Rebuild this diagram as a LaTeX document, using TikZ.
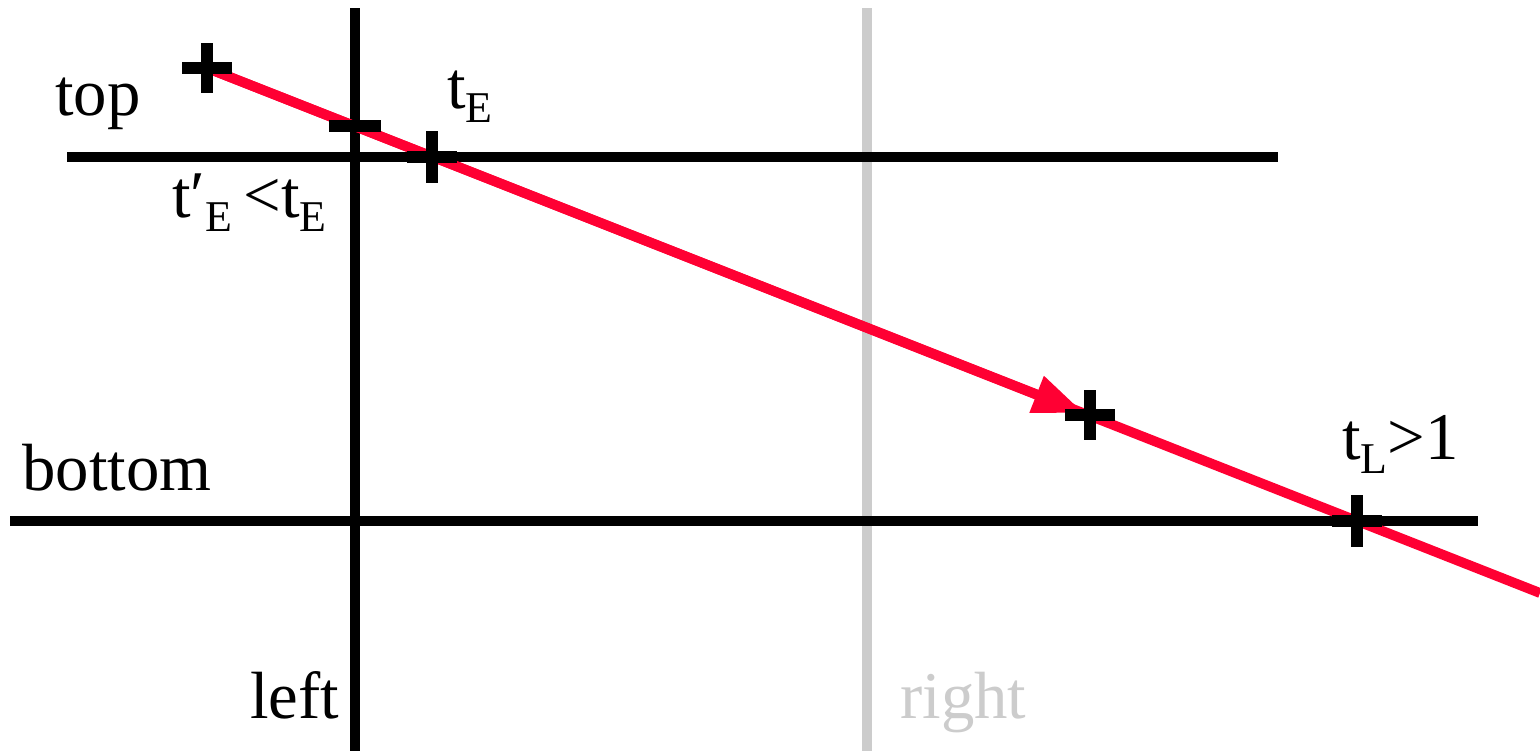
\documentclass[tikz,border=0pt]{standalone}
\usepackage{fontspec}
\setmainfont{Liberation Serif}
\usetikzlibrary{arrows.meta}
\definecolor{rayred}{HTML}{FF0033}
\definecolor{lgray}{HTML}{CCCCCC}
\newcommand\lowsub[1]{\raisebox{-8.5pt}{\fontsize{25}{26}\selectfont #1}}
\begin{document}
\begin{tikzpicture}[x=0.02cm,y=-0.02cm,
  axisline/.style={line width=5.2pt,black},
  grayline/.style={line width=5.2pt,lgray},
  ray/.style={line width=5.6pt,rayred},
  crossl/.style={line width=6.6pt,black},
  lbl/.style={anchor=base west,inner sep=0pt,font=\fontsize{38}{44}\selectfont},
]
\useasboundingbox (0,0) rectangle (1540,751);
% coordinates
\coordinate (Ltop) at (355,8);
\coordinate (Lbot) at (355,751);
\coordinate (Rtop) at (867,8);
\coordinate (Rbot) at (867,751);
\coordinate (Tl) at (67,157);
\coordinate (Tr) at (1278,157);
\coordinate (Bl) at (10,521);
\coordinate (Br) at (1478,521);
\coordinate (P0) at (207,68);
\coordinate (Pend) at (1540,593);
\coordinate (Ptip) at (1084,413);
\coordinate (Cleft) at (355,126);
\coordinate (Ctop) at (432,157);
\coordinate (Cone) at (1090,415);
\coordinate (Cbot) at (1357,521);
% boundary lines
\draw[grayline] (Rtop) -- (Rbot);
\draw[axisline] (Ltop) -- (Lbot);
\draw[axisline] (Tl) -- (Tr);
\draw[axisline] (Bl) -- (Br);
% ray
\draw[ray] (P0) -- (Pend);
\draw[ray,-{Triangle[length=29pt,width=21pt]}] (P0) -- (Ptip);
% marks
\draw[crossl] (P0) +(-25,0) -- +(25,0) (P0) +(0,-25) -- +(0,25);
\draw[crossl] (Cleft) +(-26,0) -- +(26,0);
\draw[crossl] (Ctop) +(-25,0) -- +(25,0) (Ctop) +(0,-26) -- +(0,26);
\draw[crossl] (Cone) +(-25,0) -- +(25,0) (Cone) +(0,-25) -- +(0,25);
\draw[crossl] (Cbot) +(-25,0) -- +(25,0) (Cbot) +(0,-26) -- +(0,26);
% labels
\node[lbl] (ltop) at (55,115) {top};
\node[lbl] (lbottom) at (22,490) {bottom};
\node[lbl] (lleft) at (250,718) {left};
\node[lbl,text=lgray] (lright) at (900,718) {right};
\node[lbl] (ltE) at (447,108) {t\lowsub{E}};
\node[lbl] (ltEp) at (172,217) {t′\lowsub{E}\,<t\lowsub{E}};
\node[lbl] (ltL) at (1342,459) {t\lowsub{L}>1};
\end{tikzpicture}
\end{document}
